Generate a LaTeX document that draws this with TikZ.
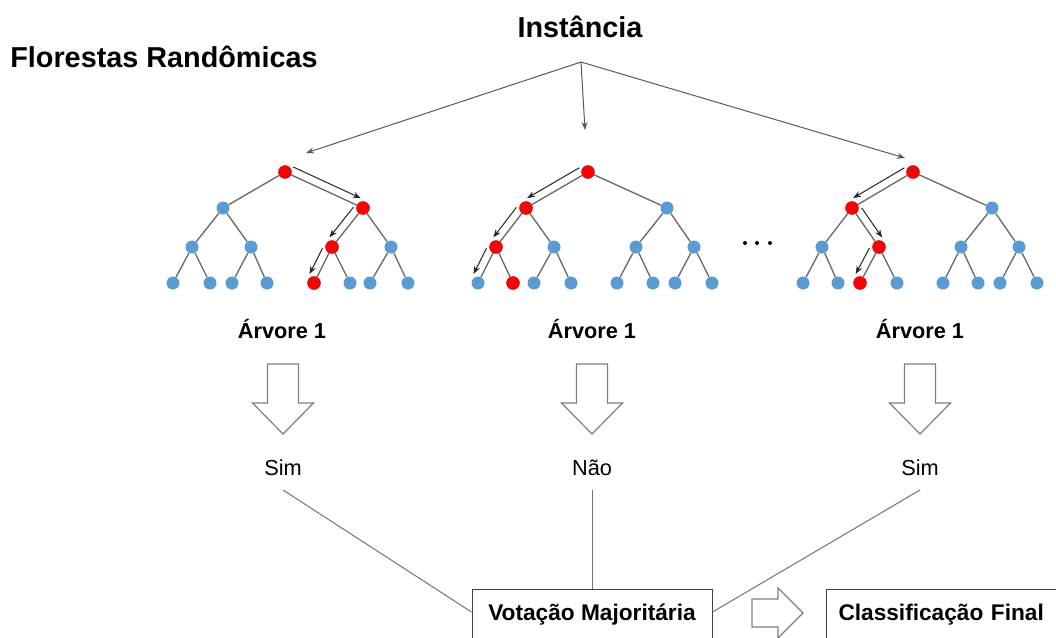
\documentclass[tikz,border=0pt]{standalone}
\usepackage{fontspec}
\setmainfont{Liberation Sans}
\usetikzlibrary{calc,arrows.meta}
\definecolor{nblue}{RGB}{91,155,213}
\definecolor{nred}{RGB}{255,0,0}
\definecolor{edgegray}{RGB}{105,105,105}
\definecolor{boxgray}{RGB}{128,128,128}
\tikzset{
 bn/.style={circle,fill=nblue,minimum size=9.75pt,inner sep=0pt},
 rn/.style={circle,fill=nred,draw=nred!75!black,line width=0.3pt,minimum size=9.75pt,inner sep=0pt},
 tedge/.style={draw=edgegray,line width=1pt},
 trav/.style={draw=black!85,line width=0.75pt,-{Stealth[length=6pt,width=4.5pt]},shorten <=4pt,shorten >=4.5pt},
 inarrow/.style={draw=black!65,line width=0.75pt,-{Stealth[length=6pt,width=4.5pt]}},
 title/.style={font=\fontsize{21.6}{24}\selectfont\bfseries,inner sep=0pt},
 tlabel/.style={font=\fontsize{16.3}{19}\selectfont\bfseries,inner sep=0pt},
 vlabel/.style={font=\fontsize{16.3}{19}\selectfont,inner sep=0pt},
 vline/.style={draw=black!55,line width=0.75pt},
 resbox/.style={draw=black!75,line width=0.75pt,minimum height=39pt,font=\fontsize{17}{20}\selectfont\bfseries},
 barrow/.style={draw=boxgray,line width=0.9pt,fill=white,line join=miter},
 dotn/.style={circle,fill=black,minimum size=3pt,inner sep=0pt},
}
\newcommand\mktree[1]{%
  \foreach \p/\c in {r/a,r/b,a/c,a/d,b/e,b/f,c/1,c/2,d/3,d/4,e/5,e/6,f/7,f/8}
    \draw[tedge] (#1\p) -- (#1\c);}
\newcommand\travU[2]{\draw[trav] ($(#1)!6pt!90:(#2)$) -- ($(#2)!6pt!-90:(#1)$);}
\newcommand\travD[2]{\draw[trav] ($(#1)!6pt!-90:(#2)$) -- ($(#2)!6pt!90:(#1)$);}
\newcommand\blockdown[1]{%
  \draw[barrow] (#1-15.5,364) -- (#1+15.5,364) -- (#1+15.5,403) -- (#1+30.5,403)
     -- (#1,434) -- (#1-30.5,403) -- (#1-15.5,403) -- cycle;}
\begin{document}
\begin{tikzpicture}[x=0.75pt,y=-0.75pt]
\useasboundingbox (0,0) rectangle (1056,637);
\fill[white] (0,0) rectangle (1056,637);

% titles
\node[title] (florestas) at (164,57) {Florestas Randômicas};
\node[title] (inst) at (580,27) {Instância};
\coordinate (apex) at (581,62);
\coordinate (in1) at (306,153);
\coordinate (in2) at (585,130);
\coordinate (in3) at (905,158);
\draw[inarrow] (apex) -- (in1);
\draw[inarrow] (apex) -- (in2);
\draw[inarrow] (apex) -- (in3);

% ---- tree 1
\node[rn] (Ar) at (285,172) {};
\node[bn] (Aa) at (223,208) {};
\node[rn] (Ab) at (363,208) {};
\node[bn] (Ac) at (192,247) {};
\node[bn] (Ad) at (251,247) {};
\node[rn] (Ae) at (332,247) {};
\node[bn] (Af) at (391,247) {};
\node[bn] (A1) at (173,283) {};
\node[bn] (A2) at (210,283) {};
\node[bn] (A3) at (232,283) {};
\node[bn] (A4) at (267,283) {};
\node[rn] (A5) at (314,283) {};
\node[bn] (A6) at (350,283) {};
\node[bn] (A7) at (370,283) {};
\node[bn] (A8) at (408,283) {};
\mktree{A}
\travU{Ar}{Ab}
\travD{Ab}{Ae}
\travD{Ae}{A5}

% ---- tree 2
\node[rn] (Br) at (588,172) {};
\node[rn] (Ba) at (526,208) {};
\node[bn] (Bb) at (667,208) {};
\node[rn] (Bc) at (496,247) {};
\node[bn] (Bd) at (554,247) {};
\node[bn] (Be) at (636,247) {};
\node[bn] (Bf) at (694,247) {};
\node[bn] (B1) at (478,283) {};
\node[rn] (B2) at (513,283) {};
\node[bn] (B3) at (534,283) {};
\node[bn] (B4) at (571,283) {};
\node[bn] (B5) at (617,283) {};
\node[bn] (B6) at (653,283) {};
\node[bn] (B7) at (675,283) {};
\node[bn] (B8) at (712,283) {};
\mktree{B}
\travD{Br}{Ba}
\travD{Ba}{Bc}
\travD{Bc}{B1}

% ---- tree 3
\node[rn] (Cr) at (913,172) {};
\node[rn] (Ca) at (852,208) {};
\node[bn] (Cb) at (992,208) {};
\node[bn] (Cc) at (822,247) {};
\node[rn] (Cd) at (879,247) {};
\node[bn] (Ce) at (961,247) {};
\node[bn] (Cf) at (1019,247) {};
\node[bn] (C1) at (803,283) {};
\node[bn] (C2) at (838,283) {};
\node[rn] (C3) at (860,283) {};
\node[bn] (C4) at (897,283) {};
\node[bn] (C5) at (943,283) {};
\node[bn] (C6) at (978,283) {};
\node[bn] (C7) at (1000,283) {};
\node[bn] (C8) at (1037,283) {};
\mktree{C}
\travD{Cr}{Ca}
\travU{Ca}{Cd}
\travD{Cd}{C3}

% dots
\node[dotn] (d1) at (745,243) {};
\node[dotn] (d2) at (757,243) {};
\node[dotn] (d3) at (770,243) {};

% labels
\node[tlabel] (lab1) at (282,329) {Árvore 1};
\node[tlabel] (lab2) at (592,329) {Árvore 1};
\node[tlabel] (lab3) at (920,329) {Árvore 1};

% block arrows down
\blockdown{283}
\blockdown{592}
\blockdown{920}

% votes
\node[vlabel] (v1) at (283,468) {Sim};
\node[vlabel] (v2) at (592,468) {Não};
\node[vlabel] (v3) at (920,468) {Sim};

% boxes
\node[resbox,minimum width=180pt] (vote) at (592,615) {Votação Majoritária};
\node[resbox,anchor=west,text width=180pt,align=left,inner xsep=9pt] (final) at (826,615) {Classificação Final};

\draw[vline] ($(v1)+(0,22)$) -- ([yshift=2.25pt]vote.west);
\draw[vline] ($(v2)+(0,22)$) -- (vote.north);
\draw[vline] ($(v3)+(0,22)$) -- ([yshift=2.25pt]vote.east);

% right block arrow
\draw[barrow] (752,599) -- (778,599) -- (778,588) -- (803,613) -- (778,638) -- (778,627) -- (752,627) -- cycle;
\end{tikzpicture}
\end{document}
